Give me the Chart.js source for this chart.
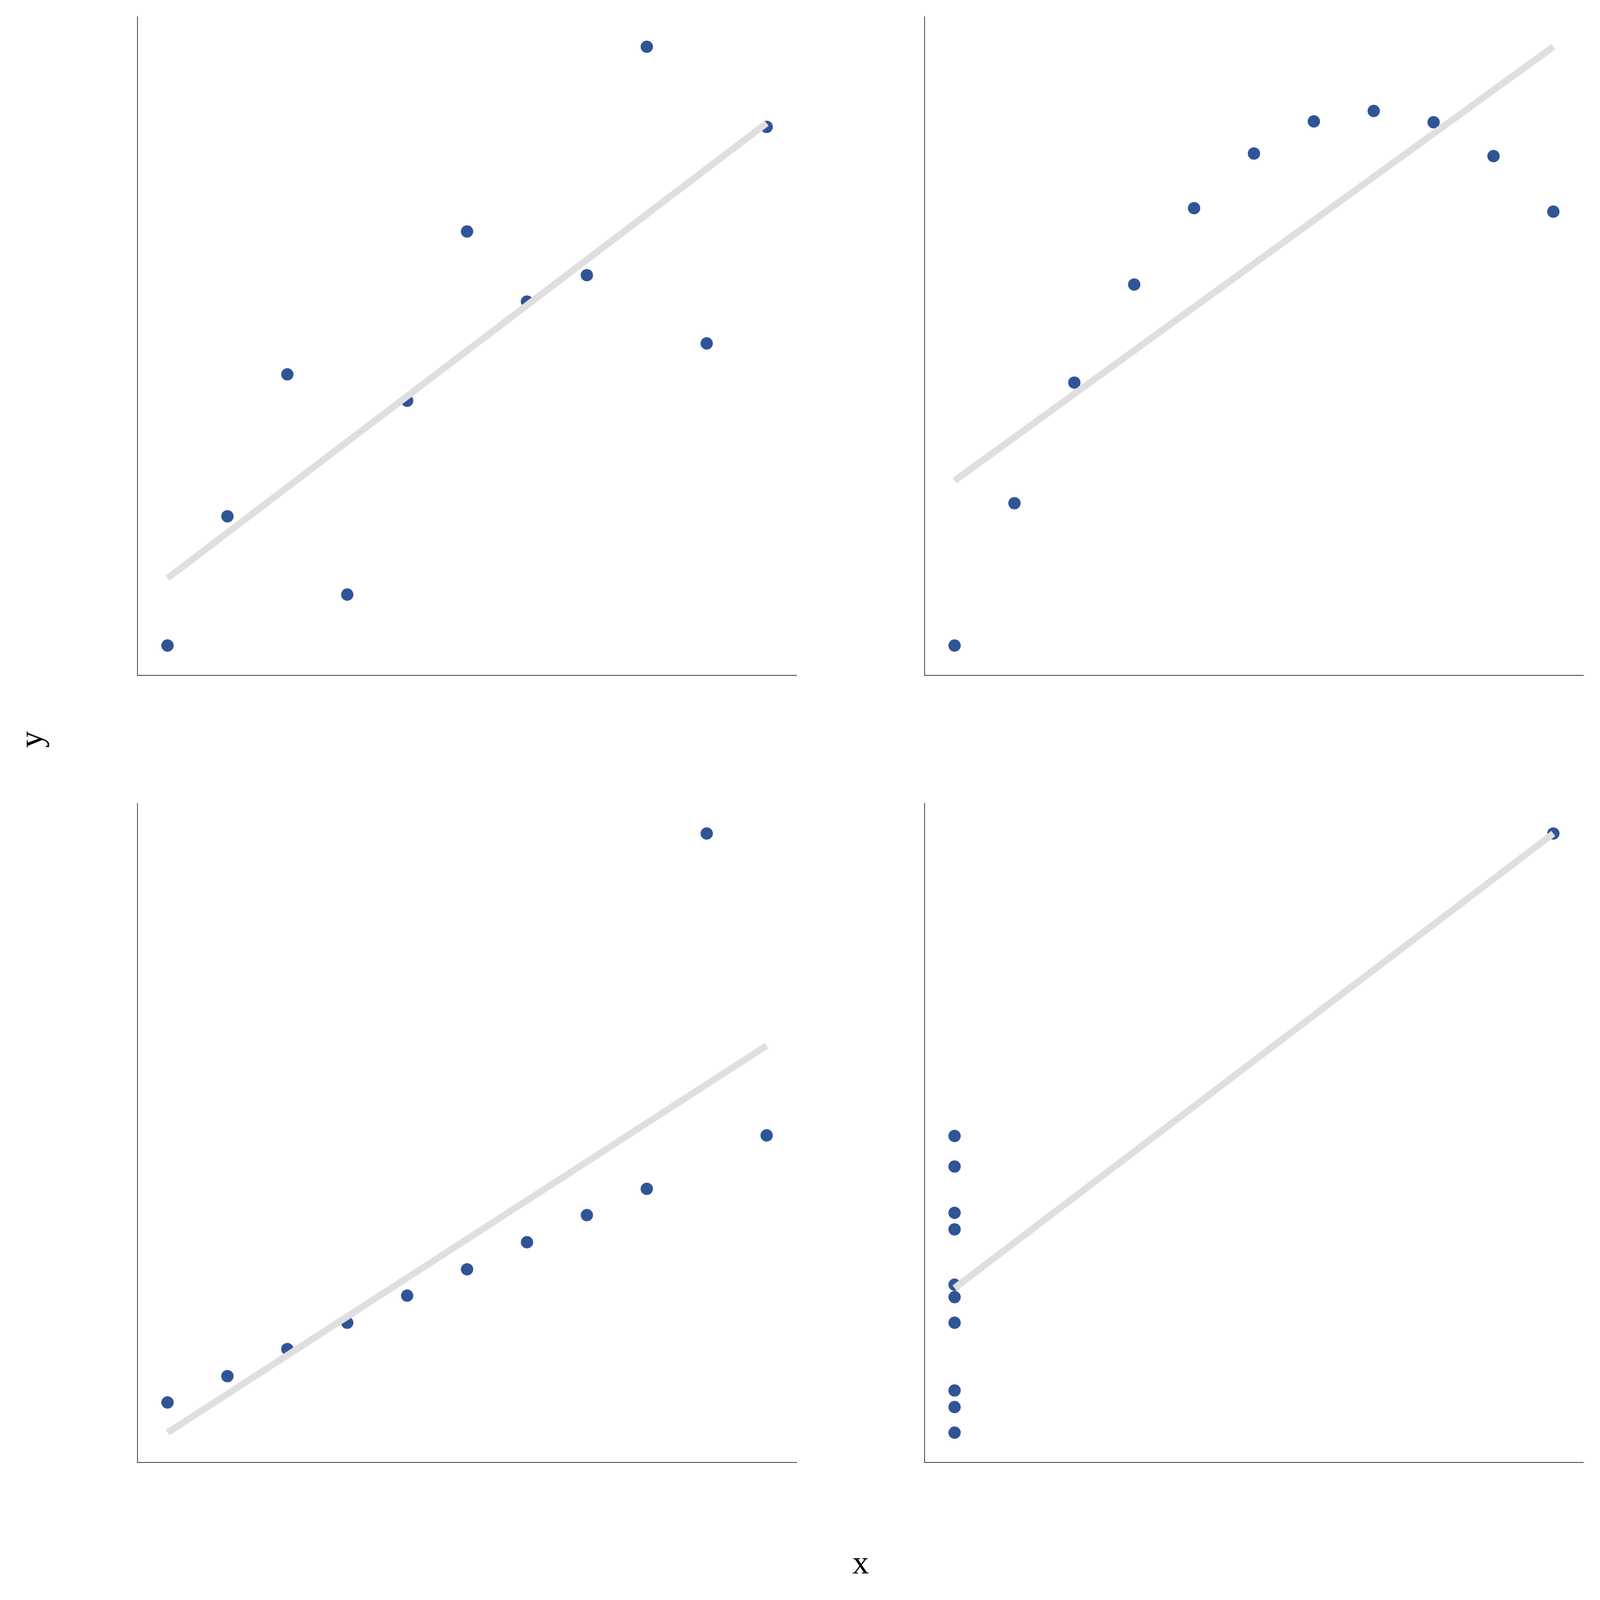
<!DOCTYPE html>
<html>
<head>
<meta charset="utf-8">
<script src="https://cdn.jsdelivr.net/npm/chart.js@4/dist/chart.umd.min.js"></script>
<style>
  html, body { margin: 0; padding: 0; background: #ffffff; width: 100%; height: 100%; overflow: hidden; }
  #stage { position: absolute; left: 0; top: 0; }
  .panel { position: absolute; }
  .lbl { position: absolute; font-family: "Liberation Serif", "DejaVu Serif", serif; color: #000; white-space: nowrap; }
</style>
</head>
<body>
<div id="stage"></div>
<script>
// Anscombe's quartet
const xI   = [4, 5, 6, 7, 8, 9, 10, 11, 12, 13, 14];
const yI   = [4.26, 5.68, 7.24, 4.82, 6.95, 8.81, 8.04, 8.33, 10.84, 7.58, 9.96];
const xII  = [4, 5, 6, 7, 8, 9, 10, 11, 12, 13, 14];
const yII  = [3.10, 4.74, 6.13, 7.26, 8.14, 8.77, 9.14, 9.26, 9.13, 8.74, 8.10];
const xIII = [4, 5, 6, 7, 8, 9, 10, 11, 12, 13, 14];
const yIII = [5.39, 5.73, 6.08, 6.42, 6.77, 7.11, 7.46, 7.81, 8.15, 12.74, 8.84];
const xIV  = [8, 8, 8, 8, 8, 8, 8, 19, 8, 8, 8];
const yIV  = [6.58, 5.76, 7.71, 8.84, 8.47, 7.04, 5.25, 12.50, 5.56, 7.91, 6.89];

// fitted lines (end points)
const fitXI   = [4, 14];   const fitYI   = [5.0, 10.0];
const fitXII  = [4, 14];   const fitYII  = [5.0, 10.0];
const fitXIII = [4, 14];   const fitYIII = [5.0, 10.0];
const fitXIV  = [8, 19];   const fitYIV  = [7.0, 12.5];

const axisLabelX = 'x';
const axisLabelY = 'y';

const POINT_COLOR = '#2f5597';
const LINE_COLOR = '#dfdfdf';
const AXIS_COLOR = '#1a1a1a';

const VW = document.documentElement.clientWidth || window.innerWidth;
const VH = document.documentElement.clientHeight || window.innerHeight;
const S = Math.min(VW, VH) / 4800;

const stage = document.getElementById('stage');
stage.style.width = (4800 * S) + 'px';
stage.style.height = (4800 * S) + 'px';

function pts(xs, ys) { return xs.map((x, i) => ({x: x, y: ys[i]})); }
function padRange(vals) {
  const lo = Math.min(...vals), hi = Math.max(...vals);
  const p = (hi - lo) * 0.05;
  return [lo - p, hi + p];
}

const PAD = 20;
function makeChart(left, top, size, xs, ys, fx, fy) {
  const box = document.createElement('div');
  box.className = 'panel';
  const full = (size + 2 * PAD) * S;
  box.style.left = ((left - PAD) * S) + 'px';
  box.style.top = ((top - PAD) * S) + 'px';
  box.style.width = full + 'px';
  box.style.height = full + 'px';
  const cv = document.createElement('canvas');
  box.appendChild(cv);
  stage.appendChild(box);
  const xr = padRange(xs.concat(fx));
  const yr = padRange(ys.concat(fy));
  new Chart(cv, {
    type: 'scatter',
    data: {
      datasets: [
        {
          type: 'line',
          data: pts(fx, fy),
          borderColor: LINE_COLOR,
          borderWidth: 20 * S,
          pointRadius: 0,
          fill: false,
          order: 0,
          clip: false
        },
        {
          type: 'scatter',
          data: pts(xs, ys),
          backgroundColor: POINT_COLOR,
          borderColor: POINT_COLOR,
          borderWidth: 0,
          pointRadius: 18.5 * S,
          pointHoverRadius: 18.5 * S,
          order: 1,
          clip: false
        }
      ]
    },
    options: {
      responsive: true,
      maintainAspectRatio: false,
      animation: false,
      layout: { padding: PAD * S },
      plugins: { legend: { display: false }, tooltip: { enabled: false } },
      events: [],
      scales: {
        x: {
          type: 'linear', min: xr[0], max: xr[1],
          ticks: { display: false },
          grid: { display: false, drawTicks: false },
          border: { display: true, color: AXIS_COLOR, width: Math.max(1, 2 * S) }
        },
        y: {
          type: 'linear', min: yr[0], max: yr[1],
          ticks: { display: false },
          grid: { display: false, drawTicks: false },
          border: { display: true, color: AXIS_COLOR, width: Math.max(1, 2 * S) }
        }
      }
    }
  });
}

const SIZE = 1976;
makeChart(413, 50, SIZE, xI, yI, fitXI, fitYI);
makeChart(2774, 50, SIZE, xII, yII, fitXII, fitYII);
makeChart(413, 2411, SIZE, xIII, yIII, fitXIII, fitYIII);
makeChart(2774, 2411, SIZE, xIV, yIV, fitXIV, fitYIV);

function addLabel(text, cx, cy, rot) {
  const d = document.createElement('div');
  d.className = 'lbl';
  d.textContent = text;
  d.style.fontSize = (100 * S) + 'px';
  d.style.lineHeight = (100 * S) + 'px';
  d.style.left = (cx * S) + 'px';
  d.style.top = (cy * S) + 'px';
  d.style.transform = 'translate(-50%,-50%)' + (rot ? ' rotate(' + rot + 'deg)' : '');
  stage.appendChild(d);
}
addLabel(axisLabelX, 2582, 4687, 0);
addLabel(axisLabelY, 94, 2218, -90);
</script>
</body>
</html>
